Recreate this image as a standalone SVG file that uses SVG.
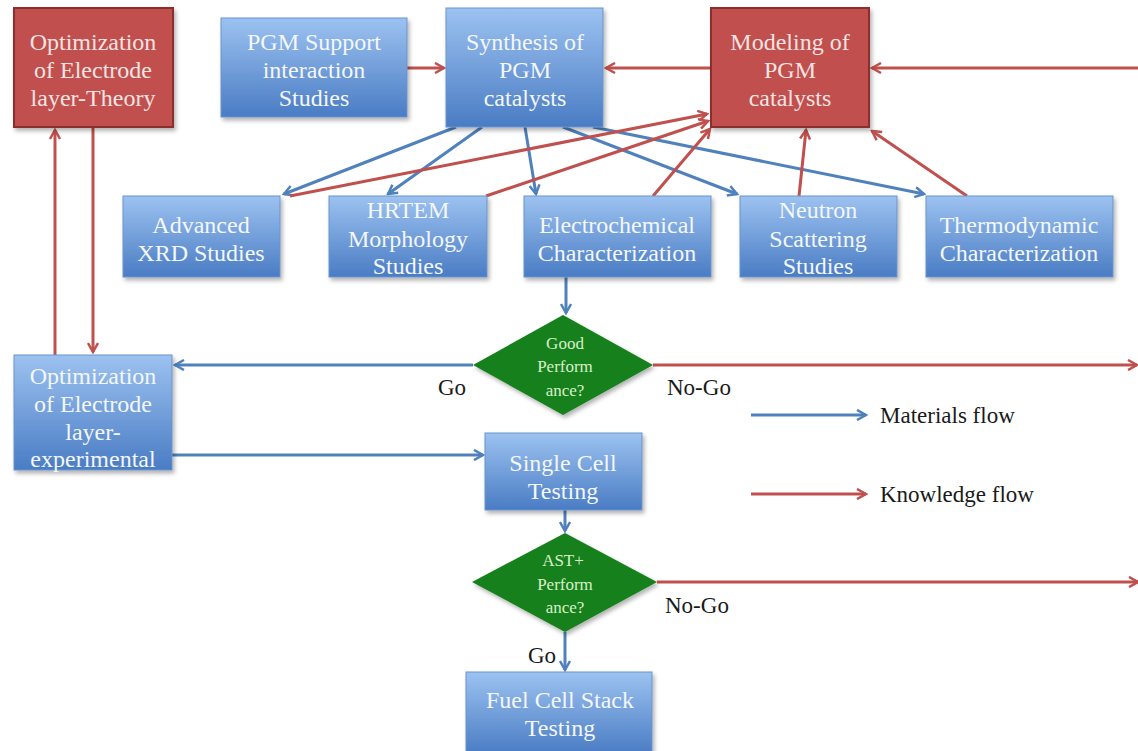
<svg xmlns="http://www.w3.org/2000/svg" width="1138" height="751" viewBox="0 0 1138 751">
<defs>
<linearGradient id="gb" x1="0" y1="0" x2="0" y2="1">
<stop offset="0" stop-color="#9CC2F0"/>
<stop offset="1" stop-color="#4A7CC4"/>
</linearGradient>
<filter id="sh" x="-10%" y="-10%" width="125%" height="125%">
<feDropShadow dx="2" dy="3" stdDeviation="2" flood-color="#000" flood-opacity="0.3"/>
</filter>
<marker id="ab" viewBox="0 0 12 12" refX="10" refY="6" markerWidth="12" markerHeight="12" markerUnits="userSpaceOnUse" orient="auto">
<path d="M1,1 L10,6 L1,11" fill="none" stroke="#4F81BD" stroke-width="2.5"/>
</marker>
<marker id="ar" viewBox="0 0 12 12" refX="10" refY="6" markerWidth="12" markerHeight="12" markerUnits="userSpaceOnUse" orient="auto">
<path d="M1,1 L10,6 L1,11" fill="none" stroke="#C0504D" stroke-width="2.5"/>
</marker>
</defs>
<style>
.bb{fill:url(#gb);stroke:#6A93CC;stroke-width:1;filter:url(#sh)}
.rb{fill:#C0504D;stroke:#8C2F2D;stroke-width:2;filter:url(#sh)}
.dm{fill:#16801C;filter:url(#sh)}
.t{font-family:"Liberation Serif","DejaVu Serif",serif;font-size:24px;fill:#F4F7FC;text-anchor:middle}
.tr{font-family:"Liberation Serif","DejaVu Serif",serif;font-size:24px;fill:#F6E4E3;text-anchor:middle}
.td{font-family:"Liberation Serif","DejaVu Serif",serif;font-size:17px;fill:#D8F0C8;text-anchor:middle}
.tl{font-family:"Liberation Serif","DejaVu Serif",serif;font-size:23px;fill:#1A1A1A}
.lb{stroke:#4F81BD;stroke-width:3;fill:none;marker-end:url(#ab)}
.lr{stroke:#C0504D;stroke-width:3;fill:none;marker-end:url(#ar)}
</style>
<rect width="1138" height="751" fill="#FFFFFF"/>

<g id="connectors">
<line class="lr" x1="407" y1="68" x2="444" y2="68"/>
<line class="lr" x1="711" y1="68" x2="606" y2="68"/>
<line class="lr" x1="1138" y1="68" x2="872" y2="68"/>
<line class="lr" x1="55" y1="355" x2="55" y2="130"/>
<line class="lr" x1="93" y1="127" x2="93" y2="352"/>
<line class="lb" x1="456" y1="127" x2="284" y2="194"/>
<line class="lb" x1="482" y1="127" x2="388" y2="194"/>
<line class="lb" x1="525" y1="127" x2="536" y2="194"/>
<line class="lb" x1="563" y1="127" x2="737" y2="194"/>
<line class="lb" x1="593" y1="127" x2="924" y2="194"/>
<line class="lr" x1="290" y1="196" x2="707" y2="114"/>
<line class="lr" x1="486" y1="196" x2="708" y2="121"/>
<line class="lr" x1="653" y1="196" x2="710" y2="129"/>
<line class="lr" x1="799" y1="196" x2="806" y2="130"/>
<line class="lr" x1="967" y1="196" x2="872" y2="131"/>
<line class="lb" x1="566" y1="277" x2="566" y2="313"/>
<line class="lb" x1="473" y1="365" x2="175" y2="365"/>
<line class="lr" x1="653" y1="365" x2="1137" y2="365"/>
<line class="lb" x1="172" y1="455" x2="483" y2="455"/>
<line class="lb" x1="565" y1="510" x2="565" y2="531"/>
<line class="lr" x1="657" y1="582" x2="1138" y2="582"/>
<line class="lb" x1="565" y1="632" x2="565" y2="670"/>
</g>

<g id="legend">
<line class="lb" x1="751" y1="415" x2="866" y2="415"/>
<text class="tl" x="880" y="423">Materials flow</text>
<line class="lr" x1="751" y1="494" x2="866" y2="494"/>
<text class="tl" x="880" y="502">Knowledge flow</text>
</g>

<g id="theory">
<rect class="rb" x="14" y="8" width="159" height="119"/>
<text class="tr" x="93" y="50">Optimization</text>
<text class="tr" x="93" y="78">of Electrode</text>
<text class="tr" x="93" y="106">layer-Theory</text>
</g>
<g id="support">
<rect class="bb" x="221" y="18" width="186" height="99"/>
<text class="t" x="314" y="50">PGM Support</text>
<text class="t" x="314" y="78">interaction</text>
<text class="t" x="314" y="106">Studies</text>
</g>
<g id="synthesis">
<rect class="bb" x="446" y="8" width="157" height="119"/>
<text class="t" x="525" y="50">Synthesis of</text>
<text class="t" x="525" y="78">PGM</text>
<text class="t" x="525" y="106">catalysts</text>
</g>
<g id="modeling">
<rect class="rb" x="711" y="8" width="158" height="119"/>
<text class="tr" x="790" y="50">Modeling of</text>
<text class="tr" x="790" y="78">PGM</text>
<text class="tr" x="790" y="106">catalysts</text>
</g>
<g id="xrd">
<rect class="bb" x="123" y="196" width="157" height="81"/>
<text class="t" x="201" y="233">Advanced</text>
<text class="t" x="201" y="261">XRD Studies</text>
</g>
<g id="hrtem">
<rect class="bb" x="329" y="196" width="158" height="81"/>
<text class="t" x="408" y="218">HRTEM</text>
<text class="t" x="408" y="247">Morphology</text>
<text class="t" x="408" y="274">Studies</text>
</g>
<g id="electrochem">
<rect class="bb" x="524" y="196" width="187" height="81"/>
<text class="t" x="617" y="233">Electrochemical</text>
<text class="t" x="617" y="261">Characterization</text>
</g>
<g id="neutron">
<rect class="bb" x="740" y="196" width="157" height="81"/>
<text class="t" x="818" y="218">Neutron</text>
<text class="t" x="818" y="247">Scattering</text>
<text class="t" x="818" y="274">Studies</text>
</g>
<g id="thermo">
<rect class="bb" x="926" y="196" width="187" height="81"/>
<text class="t" x="1019" y="233">Thermodynamic</text>
<text class="t" x="1019" y="261">Characterization</text>
</g>
<g id="good">
<polygon class="dm" points="563,315 653,365 563,415 473,365"/>
<text class="td" x="565" y="349">Good</text>
<text class="td" x="565" y="372">Perform</text>
<text class="td" x="565" y="396">ance?</text>
</g>
<text class="tl" x="438" y="395">Go</text>
<text class="tl" x="667" y="395">No-Go</text>
<g id="experimental">
<rect class="bb" x="14" y="355" width="158" height="115"/>
<text class="t" x="93" y="384">Optimization</text>
<text class="t" x="93" y="412">of Electrode</text>
<text class="t" x="93" y="440">layer-</text>
<text class="t" x="93" y="467">experimental</text>
</g>
<g id="singlecell">
<rect class="bb" x="485" y="433" width="157" height="77"/>
<text class="t" x="563" y="471">Single Cell</text>
<text class="t" x="563" y="499">Testing</text>
</g>
<g id="ast">
<polygon class="dm" points="565,533 657,582 565,632 472,582"/>
<text class="td" x="563" y="566">AST+</text>
<text class="td" x="565" y="590">Perform</text>
<text class="td" x="565" y="613">ance?</text>
</g>
<text class="tl" x="665" y="613">No-Go</text>
<text class="tl" x="528" y="663">Go</text>
<g id="stack">
<rect class="bb" x="466" y="672" width="186" height="82"/>
<text class="t" x="560" y="708">Fuel Cell Stack</text>
<text class="t" x="560" y="736">Testing</text>
</g>
</svg>
